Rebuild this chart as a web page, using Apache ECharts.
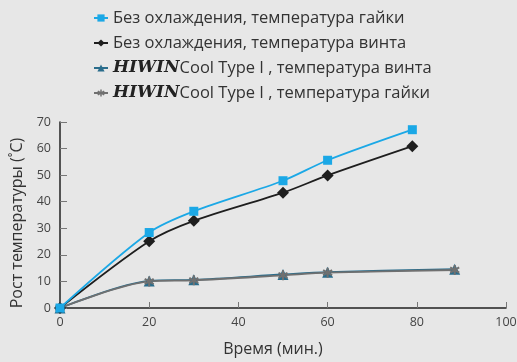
<!DOCTYPE html>
<html><head><meta charset="utf-8">
<script src="https://cdn.jsdelivr.net/npm/echarts@6/dist/echarts.min.js"></script>
<style>html,body{margin:0;padding:0;background:#e7e7e7;}#c{width:517px;height:362px;}</style>
</head><body><div id="c"></div>
<script>
var timeNoCool = [0, 20, 30, 50, 60, 79];
var nutNoCool = [0, 28.4, 36.4, 47.9, 55.6, 67.1];
var screwNoCool = [0, 25.1, 32.8, 43.4, 49.9, 60.9];
var timeCool = [0, 20, 30, 50, 60, 88.5];
var screwCool = [0, 10.2, 10.6, 12.6, 13.5, 14.6];
var nutCool = [0, 10.0, 10.4, 12.3, 13.3, 14.3];
var seriesNames = [
  'Без охлаждения, температура гайки',
  'Без охлаждения, температура винта',
  'HIWIN Cool Type I , температура винта',
  'HIWIN Cool Type I , температура гайки'
];
var xTicks = [0, 20, 40, 60, 80, 100];
var yTicks = [0, 10, 20, 30, 40, 50, 60, 70];

function pairs(xs, ys) { return xs.map(function (x, i) { return [x, ys[i]]; }); }
var asterisk = 'path://M4,0h2v3.3l2.9-1.7 1,1.7L7,5l2.9,1.7-1,1.7L6,6.7V10H4V6.7L1.1,8.4l-1-1.7L3,5 0.1,3.3l1-1.7L4,3.3z';

var chart = echarts.init(document.getElementById('c'));
chart.setOption({
  backgroundColor: '#e7e7e7',
  animation: false,
  textStyle: { fontFamily: 'Open Sans' },
  legend: {
    orient: 'vertical', left: 93, top: 7, padding: 0, itemGap: 3, itemWidth: 14, itemHeight: 9,
    data: seriesNames,
    formatter: function (n) {
      if (n.indexOf('HIWIN') === 0) { return '{h|HIWIN}' + n.slice(6); }
      return n;
    },
    textStyle: {
      fontFamily: 'Open Sans', fontSize: 16.5, color: '#333', lineHeight: 22,
      rich: { h: { fontFamily: 'DejaVu Serif', fontWeight: 'bold', fontStyle: 'italic', fontSize: 17, color: '#222', lineHeight: 22 } }
    }
  },
  grid: { left: 60, right: 11, top: 122, bottom: 54, outerBoundsMode: 'none', containLabel: false },
  xAxis: {
    type: 'value', min: 0, max: 100, interval: 20,
    name: 'Время (мин.)', nameLocation: 'middle', nameGap: 33,
    nameTextStyle: { fontSize: 16, color: '#333', fontFamily: 'Open Sans', padding: [0, 20, 0, 0] },
    axisLine: { lineStyle: { color: '#222', width: 1.5 } },
    axisTick: { inside: true, length: 6, lineStyle: { color: '#777' } },
    axisLabel: { color: '#444', fontSize: 12.5, margin: 8, formatter: function (v) { return xTicks.indexOf(v) >= 0 ? String(v) : ''; } },
    splitLine: { show: false }
  },
  yAxis: {
    type: 'value', min: 0, max: 70, interval: 10,
    name: 'Рост температуры (˚C)', nameLocation: 'middle', nameGap: 28,
    nameTextStyle: { fontSize: 16, color: '#333', fontFamily: 'Open Sans', padding: [0, 16, 0, 0] },
    axisLine: { show: true, lineStyle: { color: '#222', width: 1.5 } },
    axisTick: { show: true, inside: true, length: 7, lineStyle: { color: '#777' } },
    axisLabel: { color: '#444', fontSize: 12.5, margin: 9, formatter: function (v) { return yTicks.indexOf(v) >= 0 ? String(v) : ''; } },
    splitLine: { show: false }
  },
  series: [
    { name: seriesNames[0], type: 'line', smooth: 0.3, data: pairs(timeNoCool, nutNoCool),
      symbol: 'rect', symbolSize: 9, color: '#1ba8e6', lineStyle: { width: 1.8, color: '#1ba8e6' }, z: 4 },
    { name: seriesNames[1], type: 'line', smooth: 0.3, data: pairs(timeNoCool, screwNoCool),
      symbol: 'diamond', symbolSize: 12, color: '#1e1e1e', lineStyle: { width: 1.8, color: '#1e1e1e' }, z: 3 },
    { name: seriesNames[2], type: 'line', smooth: 0.3, data: pairs(timeCool, screwCool),
      symbol: 'triangle', symbolSize: 11, color: '#2a6d8c', lineStyle: { width: 1.8, color: '#2a6d8c' }, z: 2 },
    { name: seriesNames[3], type: 'line', smooth: 0.3, data: pairs(timeCool, nutCool),
      symbol: asterisk, symbolSize: 10, color: '#707070', lineStyle: { width: 1.8, color: '#707070' }, z: 2 }
  ]
});
</script></body></html>
